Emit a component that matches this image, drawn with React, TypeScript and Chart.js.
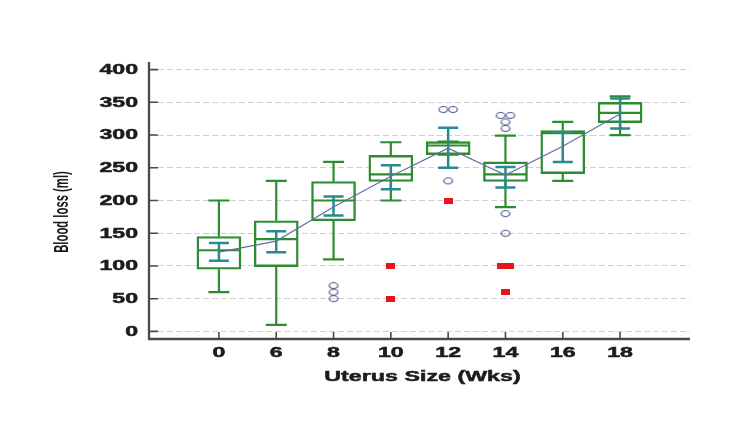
import React, { useEffect, useRef } from "react";
import { Chart, registerables } from "chart.js";

Chart.register(...registerables);

const categories = ["0", "6", "8", "10", "12", "14", "16", "18"];
const whiskerLow = [60, 10, 110, 200, 270, 190, 230, 300];
const q1 = [95, 99, 169, 229, 270, 229, 241, 319];
const median = [124, 141, 200, 240, 284, 240, 303, 334];
const q3 = [145, 169, 229, 269, 290, 259, 307, 350];
const whiskerHigh = [200, 230, 259, 289, 290, 299, 320, 359];
const meanValues = [121, 138, 190, 237, 280, 239, 283, 332];
const ciLow = [108, 121, 177, 217, 250, 220, 259, 310];
const ciHigh = [135, 153, 206, 254, 311, 251, 304, 356];
const outliers: number[][] = [[], [], [70, 60, 50], [], [339, 339, 230], [330, 330, 320, 310, 180, 150], [], []];
const extremes: number[][] = [[], [], [], [100, 50], [200], [100, 100, 60], [], []];
const yTicks = [0, 50, 100, 150, 200, 250, 300, 350, 400];
const xTitle = "Uterus Size (Wks)";
const yTitle = "Blood loss (ml)";

const GREEN = "#2c8c30";
const TEAL = "#2a8a8c";
const LINE = "#6a6aa6";
const CIRCLE = "#50508f";
const RED = "#e8141c";
const AXIS = "#4a4a4a";
const TEXT = "#1c1c1c";

function spread(lists: number[][], step: number) {
  const pts: { x: number; y: number }[] = [];
  lists.forEach((vals, i) => {
    const counts: Record<number, number> = {};
    vals.forEach((v) => (counts[v] = (counts[v] || 0) + 1));
    const seen: Record<number, number> = {};
    vals.forEach((v) => {
      const k = counts[v];
      const j = seen[v] || 0;
      seen[v] = j + 1;
      pts.push({ x: i + (j - (k - 1) / 2) * step, y: v });
    });
  });
  return pts;
}

export default function App() {
  const ref = useRef<HTMLCanvasElement | null>(null);

  useEffect(() => {
    document.body.style.margin = "0";
    const canvas = ref.current;
    if (!canvas) return;

    const ell = document.createElement("canvas");
    ell.width = 12;
    ell.height = 9;
    const ec = ell.getContext("2d")!;
    ec.strokeStyle = CIRCLE;
    ec.lineWidth = 1.2;
    ec.beginPath();
    ec.ellipse(6, 4.5, 4.3, 3, 0, 0, Math.PI * 2);
    ec.stroke();

    const sq = document.createElement("canvas");
    sq.width = 9;
    sq.height = 6;
    const sc = sq.getContext("2d")!;
    sc.fillStyle = RED;
    sc.fillRect(0, 0, 9, 6);

    const boxPlugin = {
      id: "boxParts",
      afterDatasetDraw(chart: any, args: any) {
        if (args.index !== 0) return;
        const ctx = chart.ctx;
        const xs = chart.scales.x;
        const ys = chart.scales.y;
        ctx.save();
        categories.forEach((_, i) => {
          const x = xs.getPixelForValue(i);
          ctx.strokeStyle = GREEN;
          ctx.lineWidth = 2.2;
          const yl = ys.getPixelForValue(whiskerLow[i]);
          const yq1 = ys.getPixelForValue(q1[i]);
          const yq3 = ys.getPixelForValue(q3[i]);
          const yh = ys.getPixelForValue(whiskerHigh[i]);
          ctx.beginPath();
          ctx.moveTo(x, yq1);
          ctx.lineTo(x, yl);
          ctx.moveTo(x - 10.5, yl);
          ctx.lineTo(x + 10.5, yl);
          ctx.moveTo(x, yq3);
          ctx.lineTo(x, yh);
          ctx.moveTo(x - 10.5, yh);
          ctx.lineTo(x + 10.5, yh);
          ctx.stroke();
          const ym = ys.getPixelForValue(median[i]);
          ctx.lineWidth = 2.2;
          ctx.beginPath();
          ctx.moveTo(x - 21, ym);
          ctx.lineTo(x + 21, ym);
          ctx.stroke();
          ctx.strokeStyle = TEAL;
          ctx.lineWidth = 2.5;
          const c1 = ys.getPixelForValue(ciLow[i]);
          const c2 = ys.getPixelForValue(ciHigh[i]);
          ctx.beginPath();
          ctx.moveTo(x, c1);
          ctx.lineTo(x, c2);
          ctx.moveTo(x - 10, c1);
          ctx.lineTo(x + 10, c1);
          ctx.moveTo(x - 10, c2);
          ctx.lineTo(x + 10, c2);
          ctx.stroke();
        });
        ctx.restore();
      },
      afterDraw(chart: any) {
        const ctx = chart.ctx;
        const xs = chart.scales.x;
        const ys = chart.scales.y;
        const { left, right, top, bottom } = chart.chartArea;
        ctx.save();
        ctx.strokeStyle = AXIS;
        ctx.lineWidth = 2.3;
        ctx.beginPath();
        ctx.moveTo(left, top);
        ctx.lineTo(left, bottom);
        ctx.lineTo(right, bottom);
        ctx.stroke();
        ctx.lineWidth = 1.6;
        ctx.beginPath();
        yTicks.forEach((v) => {
          const y = ys.getPixelForValue(v);
          ctx.moveTo(left, y);
          ctx.lineTo(left + 9, y);
        });
        categories.forEach((_, i) => {
          const x = xs.getPixelForValue(i);
          ctx.moveTo(x, bottom);
          ctx.lineTo(x, bottom - 7);
        });
        ctx.stroke();

        ctx.fillStyle = TEXT;
        ctx.strokeStyle = TEXT;
        ctx.lineWidth = 0.5;
        ctx.font = "bold 14px 'Liberation Sans', Arial, sans-serif";
        ctx.textBaseline = "middle";
        ctx.textAlign = "right";
        yTicks.forEach((v) => {
          const y = ys.getPixelForValue(v);
          ctx.save();
          ctx.translate(left - 11, y + 0.5);
          ctx.scale(1.65, 1);
          ctx.fillText(String(v), 0, 0);
          ctx.strokeText(String(v), 0, 0);
          ctx.restore();
        });
        ctx.textAlign = "center";
        categories.forEach((c, i) => {
          const x = xs.getPixelForValue(i);
          ctx.save();
          ctx.translate(x, bottom + 14.5);
          ctx.scale(1.65, 1);
          ctx.fillText(c, 0, 0);
          ctx.strokeText(c, 0, 0);
          ctx.restore();
        });
        ctx.save();
        ctx.font = "bold 15.5px 'Liberation Sans', Arial, sans-serif";
        ctx.translate((left + right) / 2 + 3, bottom + 38);
        ctx.scale(1.5, 1);
        ctx.fillText(xTitle, 0, 0);
        ctx.strokeText(xTitle, 0, 0);
        ctx.restore();
        ctx.save();
        ctx.font = "bold 11.3px 'Liberation Sans', Arial, sans-serif";
        ctx.translate(62, 212);
        ctx.scale(1.85, 1);
        ctx.rotate(-Math.PI / 2);
        ctx.fillText(yTitle, 0, 0);
        ctx.restore();
        ctx.restore();
      },
    };

    const chart = new Chart(canvas, {
      type: "bar",
      data: {
        datasets: [
          {
            type: "bar",
            data: categories.map((_, i) => ({ x: i, y: [q1[i], q3[i]] })) as any,
            backgroundColor: "#ffffff",
            borderColor: GREEN,
            borderWidth: 2.4,
            borderSkipped: false,
            barThickness: 44,
            order: 4,
          } as any,
          {
            type: "line",
            data: meanValues.map((v, i) => ({ x: i, y: v })),
            borderColor: LINE,
            borderWidth: 1.2,
            pointRadius: 0,
            fill: false,
            order: 3,
          } as any,
          {
            type: "scatter",
            data: spread(outliers, 0.17),
            pointStyle: ell,
            pointRadius: 4,
            order: 2,
          } as any,
          {
            type: "scatter",
            data: spread(extremes, 0.15),
            pointStyle: sq,
            pointRadius: 4,
            order: 1,
          } as any,
        ],
      },
      options: {
        responsive: false,
        animation: false,
        layout: { padding: { left: 149, right: 60, top: 62, bottom: 94 } },
        plugins: { legend: { display: false }, tooltip: { enabled: false } },
        scales: {
          x: {
            type: "linear",
            min: -1.22,
            max: 8.22,
            offset: false,
            ticks: { display: false },
            grid: { display: false, offset: false, drawTicks: false },
            border: { display: false },
            afterFit: (s: any) => {
              s.height = 0;
            },
          },
          y: {
            type: "linear",
            min: -11.6,
            max: 411.6,
            afterBuildTicks: (s: any) => {
              s.ticks = yTicks.map((v) => ({ value: v }));
            },
            ticks: { display: false },
            grid: { color: "#d0d0d0", lineWidth: 1, drawTicks: false },
            border: { display: false, dash: [6, 3] },
            afterFit: (s: any) => {
              s.width = 0;
            },
          },
        },
      },
      plugins: [boxPlugin],
    } as any);

    return () => chart.destroy();
  }, []);

  return <canvas ref={ref} width={750} height={433} style={{ display: "block" }} />;
}
